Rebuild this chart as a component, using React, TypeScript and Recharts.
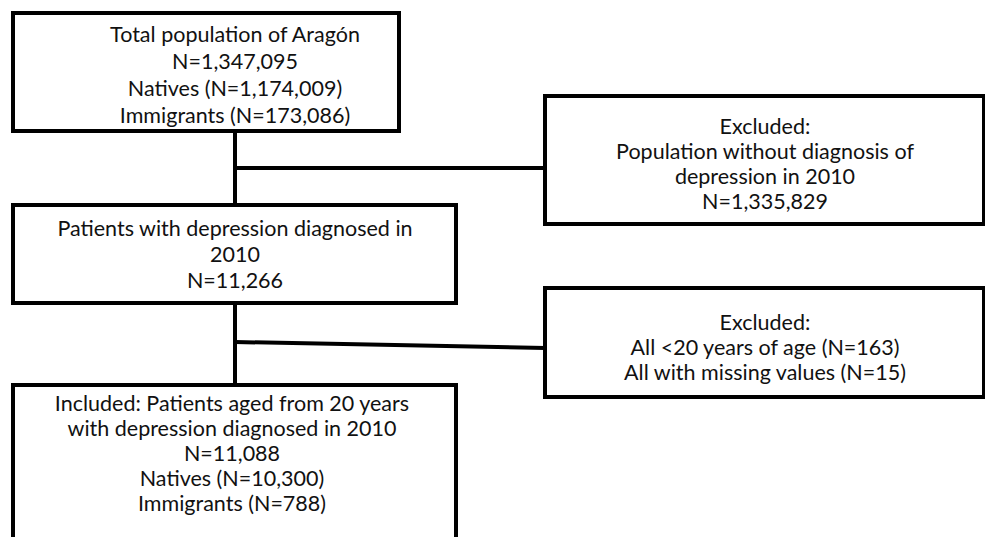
import { ScatterChart, Scatter, XAxis, YAxis, ReferenceArea, ReferenceLine } from 'recharts';

// flowchart content
const box1Lines = ['Total population of Aragón', 'N=1,347,095', 'Natives (N=1,174,009)', 'Immigrants (N=173,086)'];
const box2Lines = ['Excluded:', 'Population without diagnosis of', 'depression in 2010', 'N=1,335,829'];
const box3Lines = ['Patients with depression diagnosed in', '2010', 'N=11,266'];
const box4Lines = ['Excluded:', 'All <20 years of age (N=163)', 'All with missing values (N=15)'];
const box5Lines = [
  'Included: Patients aged from 20 years',
  'with depression diagnosed in 2010',
  'N=11,088',
  'Natives (N=10,300)',
  'Immigrants (N=788)',
];

// layout in chart units (domain = 985 x 537), tx = text centre
const boxes = [
  { lines: box1Lines, x1: 13, x2: 399, y1: 13, y2: 131, tx: 235, first: 34, gap: 27 },
  { lines: box2Lines, x1: 545, x2: 984, y1: 96, y2: 224, tx: 765, first: 126, gap: 25 },
  { lines: box3Lines, x1: 13, x2: 456, y1: 205, y2: 303, tx: 235, first: 228, gap: 26 },
  { lines: box4Lines, x1: 545, x2: 984, y1: 288, y2: 397, tx: 765, first: 322, gap: 25 },
  { lines: box5Lines, x1: 13, x2: 456, y1: 385, y2: 560, tx: 232, first: 403, gap: 25 },
];

const connectors = [
  [{ x: 235, y: 131 }, { x: 235, y: 205 }],
  [{ x: 235, y: 168 }, { x: 545, y: 168 }],
  [{ x: 235, y: 303 }, { x: 235, y: 385 }],
  [{ x: 235, y: 342 }, { x: 545, y: 348 }],
];

const textPoints = boxes.flatMap((b) =>
  b.lines.map((t, i) => ({ x: b.tx, y: b.first + i * b.gap, text: t }))
);

const FONT = 'Lato, "Open Sans", sans-serif';

function LineText(props: any) {
  const { cx, cy, payload } = props;
  return (
    <text
      x={cx}
      y={cy}
      textAnchor="middle"
      dominantBaseline="central"
      fontFamily={FONT}
      fontSize={21.5}
      fill="#111"
    >
      {payload.text}
    </text>
  );
}

export default function App() {
  return (
    <div style={{ position: 'fixed', left: 0, top: 0, background: '#fff' }}>
      <ScatterChart width={985} height={537} margin={{ top: 0, right: 0, bottom: 0, left: 0 }}>
        <XAxis type="number" dataKey="x" domain={[0, 985]} hide allowDataOverflow />
        <YAxis type="number" dataKey="y" domain={[0, 537]} reversed hide allowDataOverflow />
        {connectors.map((seg, i) => (
          <ReferenceLine key={'c' + i} segment={seg} stroke="#000" strokeWidth={4} ifOverflow="visible" />
        ))}
        {boxes.map((b, i) => (
          <ReferenceArea
            key={'b' + i}
            x1={b.x1}
            x2={b.x2}
            y1={b.y1}
            y2={b.y2}
            fill="#fff"
            fillOpacity={1}
            stroke="#000"
            strokeWidth={4}
            ifOverflow="visible"
          />
        ))}
        <Scatter data={textPoints} shape={<LineText />} isAnimationActive={false} />
      </ScatterChart>
    </div>
  );
}
